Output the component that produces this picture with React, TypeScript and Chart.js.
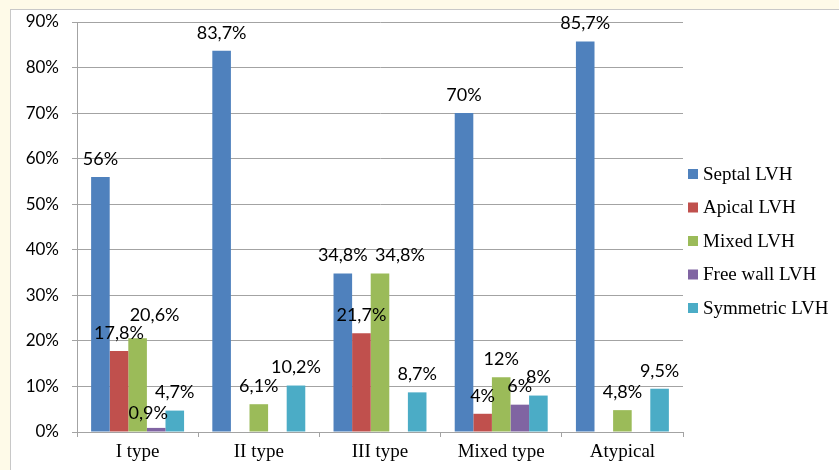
import React, { useEffect, useRef } from "react";
import { Chart, registerables } from "chart.js";

Chart.register(...registerables);

const categories = ["I type", "II type", "III type", "Mixed type", "Atypical"];
const seriesNames = ["Septal LVH", "Apical LVH", "Mixed LVH", "Free wall LVH", "Symmetric LVH"];
const septal = [56, 83.7, 34.8, 70, 85.7];
const apical = [17.8, null, 21.7, 4, null];
const mixed = [20.6, 6.1, 34.8, 12, 4.8];
const freeWall = [0.9, null, null, 6, null];
const symmetric = [4.7, 10.2, 8.7, 8, 9.5];
const yMax = 90;
const yStep = 10;

const seriesColors = ["#4F81BD", "#C0504D", "#9BBB59", "#8064A2", "#4BACC6"];
const gridColor = "#a3a3a3";
const labelNudges: Record<string, [number, number]> = {
  "2-0": [17, -5],
  "3-0": [-8, 3],
  "2-2": [20, 0],
};

const fmt = (v: number) => String(v).replace(".", ",") + "%";

const dataLabelPlugin = {
  id: "dataLabels",
  afterDatasetsDraw(chart: any) {
    const ctx = chart.ctx;
    ctx.save();
    ctx.font = "18px Lato";
    ctx.fillStyle = "#000";
    ctx.textAlign = "center";
    ctx.textBaseline = "middle";
    chart.data.datasets.forEach((ds: any, di: number) => {
      const meta = chart.getDatasetMeta(di);
      meta.data.forEach((el: any, i: number) => {
        const v = ds.data[i];
        if (v == null) return;
        const [dx, dy] = labelNudges[`${di}-${i}`] || [0, 0];
        ctx.fillText(fmt(v), el.x + dx, el.y - 18 + dy);
      });
    });
    ctx.restore();
  },
};

const sideLegendPlugin = {
  id: "sideLegend",
  afterDraw(chart: any) {
    const ctx = chart.ctx;
    const area = chart.chartArea;
    const n = chart.data.datasets.length;
    const spacing = 33.5;
    const cy = chart.height / 2 + 1;
    ctx.save();
    ctx.font = "19px 'Liberation Serif'";
    ctx.textBaseline = "middle";
    ctx.textAlign = "left";
    chart.data.datasets.forEach((ds: any, i: number) => {
      const y = cy + (i - (n - 1) / 2) * spacing;
      const bx = area.right + 5;
      ctx.fillStyle = ds.backgroundColor;
      ctx.fillRect(bx, y - 5, 10, 10);
      ctx.fillStyle = "#000";
      ctx.fillText(ds.label, bx + 15, y + 1);
    });
    ctx.restore();
  },
};

export default function App() {
  const canvasRef = useRef<HTMLCanvasElement | null>(null);

  useEffect(() => {
    if (!canvasRef.current) return;
    const seriesData = [septal, apical, mixed, freeWall, symmetric];
    const chart = new Chart(canvasRef.current, {
      type: "bar",
      data: {
        labels: categories,
        datasets: seriesNames.map((name, i) => ({
          label: name,
          data: seriesData[i],
          backgroundColor: seriesColors[i],
          borderWidth: 0,
          categoryPercentage: 0.767,
          barPercentage: 1,
        })),
      },
      options: {
        responsive: false,
        animation: false,
        devicePixelRatio: 1,
        layout: { padding: { top: 12, right: 156, left: 0, bottom: 0 } },
        plugins: {
          legend: { display: false },
          tooltip: { enabled: false },
        },
        scales: {
          x: {
            grid: {
              display: true,
              drawOnChartArea: false,
              drawTicks: true,
              tickLength: 5,
              color: gridColor,
              offset: true,
            },
            border: { color: gridColor },
            ticks: {
              font: { family: "'Liberation Serif'", size: 19 },
              color: "#000",
              padding: 4,
            },
            afterFit: (s: any) => {
              s.height = 38;
            },
          },
          y: {
            min: 0,
            max: yMax,
            ticks: {
              stepSize: yStep,
              callback: (v: any) => v + "%",
              font: { family: "Lato", size: 17 },
              color: "#000",
              padding: 13,
            },
            grid: { color: gridColor, tickLength: 5 },
            border: { color: gridColor },
            afterFit: (s: any) => {
              s.width = 66;
              s.paddingTop = 0;
              s.paddingBottom = 0;
            },
          },
        },
      },
      plugins: [dataLabelPlugin, sideLegendPlugin],
    });
    return () => chart.destroy();
  }, []);

  return (
    <div
      style={{
        position: "fixed",
        left: 0,
        top: 0,
        width: 839,
        height: 470,
        background: "#fefae8",
        overflow: "hidden",
      }}
    >
      <div
        style={{
          position: "absolute",
          left: 10,
          top: 9,
          width: 829,
          height: 461,
          boxSizing: "border-box",
          borderLeft: "1px solid #c8c8c8",
          borderTop: "1px solid #c8c8c8",
          background: "#fff",
        }}
      >
        <canvas ref={canvasRef} width={828} height={460} style={{ display: "block" }} />
      </div>
    </div>
  );
}
